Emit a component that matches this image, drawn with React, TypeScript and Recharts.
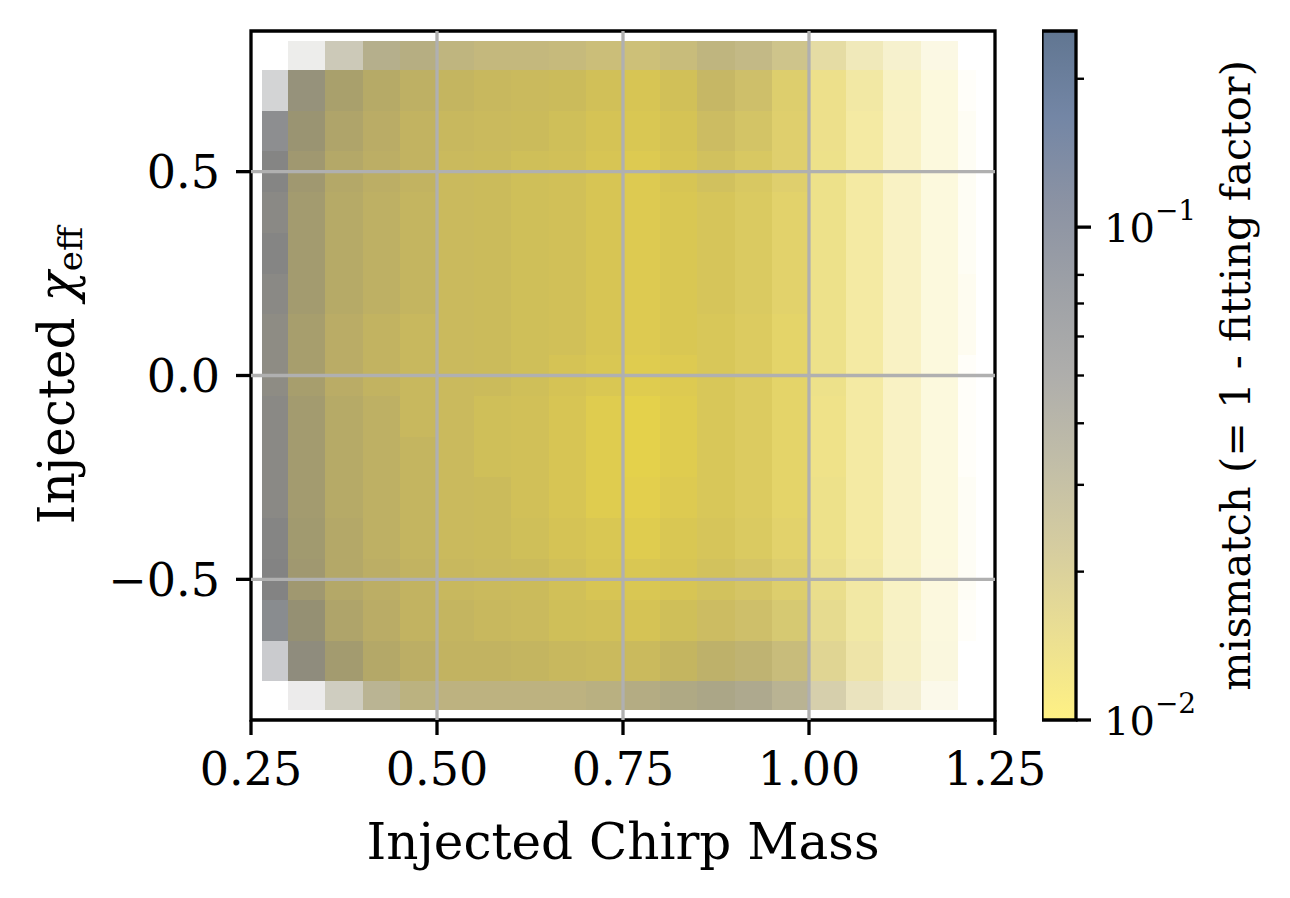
import React from 'react';
import {
  ScatterChart,
  ComposedChart,
  Scatter,
  XAxis,
  YAxis,
  ReferenceArea,
  ReferenceLine,
} from 'recharts';

// bin edges of the binned scatter (chirp mass left -> right, chi_eff top -> bottom)
const massEdges = [
  0.265, 0.3, 0.35, 0.4, 0.45, 0.5, 0.55, 0.6, 0.65, 0.7, 0.75, 0.8, 0.85, 0.9, 0.95, 1.0, 1.05,
  1.1, 1.15, 1.2, 1.225,
];
const chiEdges = [
  0.82, 0.75, 0.65, 0.55, 0.45, 0.35, 0.25, 0.15, 0.05, -0.05, -0.15, -0.25, -0.35, -0.45, -0.55,
  -0.65, -0.75, -0.82,
];

// log10(mismatch) of the points in each bin, read against the colour bar
const logMismatch: (number | null)[][] = [
  [null, -1.37, -1.47, -1.52, -1.55, -1.61, -1.64, -1.64, -1.65, -1.68, -1.69, -1.66, -1.61, -1.61, -1.66, -1.75, -1.80, -1.83, -1.86, null],
  [-1.19, -1.41, -1.55, -1.62, -1.66, -1.69, -1.71, -1.72, -1.73, -1.76, -1.79, -1.76, -1.69, -1.72, -1.79, -1.85, -1.87, -1.89, -1.92, -1.93],
  [-1.22, -1.47, -1.58, -1.64, -1.68, -1.71, -1.72, -1.73, -1.75, -1.78, -1.80, -1.78, -1.72, -1.75, -1.80, -1.85, -1.89, -1.90, -1.92, -1.93],
  [-1.27, -1.50, -1.61, -1.65, -1.68, -1.72, -1.73, -1.75, -1.76, -1.79, -1.82, -1.79, -1.75, -1.78, -1.80, -1.86, -1.89, -1.90, -1.92, -1.93],
  [-1.30, -1.52, -1.62, -1.66, -1.69, -1.72, -1.73, -1.75, -1.76, -1.79, -1.82, -1.80, -1.78, -1.79, -1.82, -1.86, -1.89, -1.90, -1.92, -1.93],
  [-1.27, -1.52, -1.62, -1.66, -1.69, -1.72, -1.73, -1.75, -1.76, -1.79, -1.82, -1.80, -1.78, -1.79, -1.82, -1.86, -1.89, -1.90, -1.92, -1.93],
  [-1.30, -1.52, -1.62, -1.66, -1.69, -1.72, -1.73, -1.75, -1.76, -1.79, -1.82, -1.80, -1.78, -1.79, -1.82, -1.86, -1.89, -1.90, -1.92, -1.93],
  [-1.33, -1.54, -1.64, -1.68, -1.71, -1.72, -1.73, -1.75, -1.76, -1.79, -1.82, -1.80, -1.79, -1.80, -1.83, -1.86, -1.89, -1.90, -1.92, -1.93],
  [-1.33, -1.54, -1.64, -1.68, -1.71, -1.72, -1.73, -1.75, -1.78, -1.80, -1.83, -1.82, -1.79, -1.80, -1.83, -1.86, -1.89, -1.90, -1.92, -1.93],
  [-1.30, -1.52, -1.62, -1.66, -1.71, -1.72, -1.75, -1.76, -1.79, -1.83, -1.86, -1.83, -1.79, -1.80, -1.83, -1.87, -1.89, -1.90, -1.92, -1.93],
  [-1.30, -1.52, -1.62, -1.66, -1.69, -1.72, -1.75, -1.76, -1.79, -1.83, -1.86, -1.83, -1.79, -1.80, -1.83, -1.87, -1.89, -1.90, -1.92, -1.93],
  [-1.30, -1.52, -1.62, -1.66, -1.69, -1.72, -1.73, -1.76, -1.79, -1.83, -1.85, -1.82, -1.79, -1.80, -1.83, -1.86, -1.89, -1.90, -1.92, -1.93],
  [-1.27, -1.51, -1.61, -1.66, -1.69, -1.72, -1.73, -1.75, -1.78, -1.80, -1.83, -1.80, -1.78, -1.79, -1.82, -1.86, -1.89, -1.90, -1.92, -1.93],
  [-1.25, -1.50, -1.61, -1.65, -1.68, -1.71, -1.72, -1.73, -1.76, -1.79, -1.80, -1.79, -1.76, -1.76, -1.79, -1.83, -1.87, -1.89, -1.90, -1.93],
  [-1.19, -1.44, -1.58, -1.64, -1.68, -1.69, -1.71, -1.72, -1.75, -1.76, -1.78, -1.75, -1.72, -1.72, -1.75, -1.80, -1.86, -1.87, -1.89, -1.93],
  [-1.16, -1.37, -1.52, -1.61, -1.65, -1.68, -1.68, -1.69, -1.71, -1.72, -1.72, -1.69, -1.65, -1.64, -1.66, -1.75, -1.82, -1.85, -1.87, -1.90],
  [null, -1.30, -1.44, -1.52, -1.58, -1.59, -1.59, -1.59, -1.59, -1.57, -1.54, -1.51, -1.48, -1.47, -1.51, -1.61, -1.72, -1.78, -1.83, null],
];

// how much of each bin is covered by points (0 = empty, 1 = solid)
const coverage: number[][] = [
  [0, 0.15, 0.5, 0.8, 0.85, 0.85, 0.85, 0.85, 0.85, 0.85, 0.85, 0.85, 0.85, 0.8, 0.75, 0.55, 0.4, 0.28, 0.15, 0],
  [0.3, 0.95, 1, 1, 1, 1, 1, 1, 1, 1, 1, 1, 0.97, 0.92, 0.85, 0.65, 0.5, 0.32, 0.18, 0.03],
  [0.8, 1, 1, 1, 1, 1, 1, 1, 1, 1, 1, 1, 0.97, 0.92, 0.85, 0.65, 0.5, 0.32, 0.18, 0.06],
  [0.9, 1, 1, 1, 1, 1, 1, 1, 1, 1, 1, 1, 0.97, 0.92, 0.85, 0.65, 0.5, 0.32, 0.18, 0.06],
  [0.9, 1, 1, 1, 1, 1, 1, 1, 1, 1, 1, 1, 0.97, 0.92, 0.85, 0.65, 0.5, 0.32, 0.18, 0.06],
  [0.9, 1, 1, 1, 1, 1, 1, 1, 1, 1, 1, 1, 0.97, 0.92, 0.85, 0.65, 0.5, 0.32, 0.18, 0.06],
  [0.9, 1, 1, 1, 1, 1, 1, 1, 1, 1, 1, 1, 0.97, 0.92, 0.85, 0.65, 0.5, 0.32, 0.18, 0.08],
  [0.9, 1, 1, 1, 1, 1, 1, 1, 1, 1, 1, 1, 0.97, 0.92, 0.85, 0.65, 0.5, 0.32, 0.18, 0.08],
  [0.9, 1, 1, 1, 1, 1, 1, 1, 1, 1, 1, 1, 0.97, 0.92, 0.85, 0.65, 0.5, 0.32, 0.18, 0.03],
  [0.9, 1, 1, 1, 1, 1, 1, 1, 1, 1, 1, 1, 0.97, 0.92, 0.85, 0.65, 0.5, 0.32, 0.18, 0.03],
  [0.9, 1, 1, 1, 1, 1, 1, 1, 1, 1, 1, 1, 0.97, 0.92, 0.85, 0.65, 0.5, 0.32, 0.18, 0.03],
  [0.9, 1, 1, 1, 1, 1, 1, 1, 1, 1, 1, 1, 0.97, 0.92, 0.85, 0.65, 0.5, 0.32, 0.18, 0.05],
  [0.9, 1, 1, 1, 1, 1, 1, 1, 1, 1, 1, 1, 0.97, 0.92, 0.85, 0.65, 0.5, 0.32, 0.18, 0.05],
  [0.9, 1, 1, 1, 1, 1, 1, 1, 1, 1, 1, 1, 0.97, 0.92, 0.85, 0.65, 0.5, 0.32, 0.18, 0.05],
  [0.8, 1, 1, 1, 1, 1, 1, 1, 1, 1, 1, 1, 0.97, 0.92, 0.85, 0.65, 0.5, 0.32, 0.18, 0.03],
  [0.35, 0.95, 1, 1, 1, 1, 1, 1, 1, 1, 1, 1, 0.97, 0.92, 0.85, 0.65, 0.5, 0.32, 0.18, 0],
  [0, 0.15, 0.45, 0.75, 0.85, 0.85, 0.85, 0.85, 0.85, 0.85, 0.85, 0.85, 0.85, 0.8, 0.75, 0.55, 0.4, 0.28, 0.12, 0],
];

const xTicks = [0.25, 0.5, 0.75, 1.0, 1.25];
const yTicks = [-0.5, 0, 0.5];
const cbarTicks = [0.01, 0.02, 0.03, 0.04, 0.05, 0.06, 0.07, 0.08, 0.09, 0.1, 0.2];
const cbarRange = [0.01, 0.25];

const FONT = 'DejaVu Serif';
const LW = 3.3;

// cividis, dark -> light
const CIVIDIS = [
  [0, 34, 78],
  [30, 60, 110],
  [68, 80, 107],
  [98, 103, 112],
  [125, 124, 120],
  [155, 149, 114],
  [188, 174, 101],
  [222, 203, 80],
  [254, 232, 56],
];

function cividis(t: number) {
  const s = Math.max(0, Math.min(1, t)) * (CIVIDIS.length - 1);
  const i = Math.min(Math.floor(s), CIVIDIS.length - 2);
  const f = s - i;
  const a = CIVIDIS[i];
  const b = CIVIDIS[i + 1];
  const c = a.map((v, k) => Math.round(v + (b[k] - v) * f));
  return `rgb(${c[0]},${c[1]},${c[2]})`;
}

// reversed map on a log norm: low mismatch -> yellow
const lo = Math.log10(cbarRange[0]);
const hi = Math.log10(cbarRange[1]);
const mismatchColor = (lm: number) => cividis(1 - (lm - lo) / (hi - lo));

const fmtY = (v: number) => (v < 0 ? `\u2212${Math.abs(v).toFixed(1)}` : v.toFixed(1));

function CbarTick(props: any) {
  const { x, y, payload } = props;
  const v = payload.value;
  const major = Math.abs(v - 0.01) < 1e-9 || Math.abs(v - 0.1) < 1e-9;
  const exp = Math.round(Math.log10(v));
  return (
    <g>
      <line x1={x} x2={x + (major ? 15 : 8)} y1={y} y2={y} stroke="#000" strokeWidth={major ? LW : 2.4} />
      {major && (
        <text x={x + 28} y={y + 15} fontSize={40} fontFamily={FONT} fill="#000">
          10
          <tspan dy={-22} fontSize={28}>{`\u2212${-exp}`}</tspan>
        </text>
      )}
    </g>
  );
}

export default function App() {
  const cells: React.ReactNode[] = [];
  logMismatch.forEach((row, i) => {
    row.forEach((lm, j) => {
      const cov = coverage[i][j];
      if (lm === null || cov <= 0) return;
      const fill = mismatchColor(lm);
      cells.push(
        <ReferenceArea
          key={`c-${i}-${j}`}
          x1={massEdges[j]}
          x2={massEdges[j + 1]}
          y1={chiEdges[i + 1]}
          y2={chiEdges[i]}
          shape={(p: any) => (
            <rect
              x={p.x}
              y={p.y}
              width={p.width}
              height={p.height}
              fill={fill}
              fillOpacity={cov}
              shapeRendering="crispEdges"
            />
          )}
        />,
      );
    });
  });

  return (
    <div style={{ position: 'relative', width: 1290, height: 898, background: '#fff' }}>
      <style>{'body{margin:0}'}</style>
      <svg width={0} height={0} style={{ position: 'absolute' }}>
        <defs>
          <linearGradient id="cbarGrad" x1="0" y1="1" x2="0" y2="0">
            {CIVIDIS.map((_, k) => (
              <stop
                key={k}
                offset={k / (CIVIDIS.length - 1)}
                stopColor={cividis(1 - k / (CIVIDIS.length - 1))}
                stopOpacity={0.62}
              />
            ))}
          </linearGradient>
        </defs>
      </svg>

      <div style={{ position: 'absolute', left: 0, top: 0 }}>
        <ScatterChart width={1290} height={898} margin={{ top: 31, right: 295, bottom: 0, left: 0 }}>
          <XAxis
            type="number"
            dataKey="x"
            domain={[0.25, 1.25]}
            ticks={xTicks}
            allowDataOverflow
            tickFormatter={(v: number) => v.toFixed(2)}
            axisLine={false}
            tickLine={{ stroke: '#000', strokeWidth: LW }}
            tickSize={15}
            tickMargin={17}
            tick={{ fill: '#000', fontSize: 46, fontFamily: FONT }}
            height={178}
            label={{
              content: ({ viewBox }: any) => (
                <text
                  x={viewBox.x + viewBox.width / 2}
                  y={viewBox.y + 139}
                  textAnchor="middle"
                  fontSize={50}
                  fontFamily={FONT}
                  fill="#000"
                >
                  Injected Chirp Mass
                </text>
              ),
            }}
          />
          <YAxis
            type="number"
            dataKey="y"
            domain={[-0.845, 0.845]}
            ticks={yTicks}
            allowDataOverflow
            tickFormatter={fmtY}
            axisLine={false}
            tickLine={{ stroke: '#000', strokeWidth: LW }}
            tickSize={15}
            tickMargin={16}
            tick={{ fill: '#000', fontSize: 46, fontFamily: FONT }}
            width={251}
            label={{
              content: ({ viewBox }: any) => {
                const cy = viewBox.y + viewBox.height / 2;
                return (
                  <text
                    x={74}
                    y={cy}
                    transform={`rotate(-90 74 ${cy})`}
                    textAnchor="middle"
                    fontSize={50}
                    fontFamily={FONT}
                    fill="#000"
                  >
                    Injected{' '}
                    <tspan fontStyle="italic">χ</tspan>
                    <tspan fontSize={34} dy={8}>
                      eff
                    </tspan>
                  </text>
                );
              },
            }}
          />
          <Scatter data={[]} isAnimationActive={false} />
          {cells}
          {xTicks.slice(1, -1).map((t) => (
            <ReferenceLine key={`gx-${t}`} x={t} stroke="#b0b0b0" strokeWidth={LW} />
          ))}
          {yTicks.map((t) => (
            <ReferenceLine key={`gy-${t}`} y={t} stroke="#b0b0b0" strokeWidth={LW} />
          ))}
          <ReferenceArea
            x1={0.25}
            x2={1.25}
            y1={-0.845}
            y2={0.845}
            fill="none"
            stroke="#000"
            strokeWidth={LW}
            fillOpacity={0}
          />
        </ScatterChart>
      </div>

      <div style={{ position: 'absolute', left: 1042, top: 0 }}>
        <ComposedChart width={248} height={898} margin={{ top: 31, right: 0, bottom: 178, left: 0 }}>
          <XAxis type="number" dataKey="x" domain={[0, 1]} allowDataOverflow hide />
          <YAxis
            orientation="right"
            type="number"
            scale="log"
            dataKey="y"
            domain={cbarRange}
            ticks={cbarTicks}
            allowDataOverflow
            axisLine={false}
            tickLine={false}
            tickSize={0}
            tickMargin={0}
            tick={<CbarTick />}
            width={214}
            label={{
              content: ({ viewBox }: any) => {
                const cy = viewBox.y + viewBox.height / 2;
                const x = 208;
                return (
                  <text
                    x={x}
                    y={cy}
                    transform={`rotate(-90 ${x} ${cy})`}
                    textAnchor="middle"
                    fontSize={41.5}
                    fontFamily={FONT}
                    fill="#000"
                  >
                    mismatch (= 1 - fitting factor)
                  </text>
                );
              },
            }}
          />
          <Scatter data={[]} isAnimationActive={false} />
          <ReferenceArea
            x1={0}
            x2={1}
            y1={cbarRange[0]}
            y2={cbarRange[1]}
            fill="url(#cbarGrad)"
            fillOpacity={1}
            stroke="#000"
            strokeWidth={LW}
            strokeOpacity={1}
          />
        </ComposedChart>
      </div>
    </div>
  );
}
